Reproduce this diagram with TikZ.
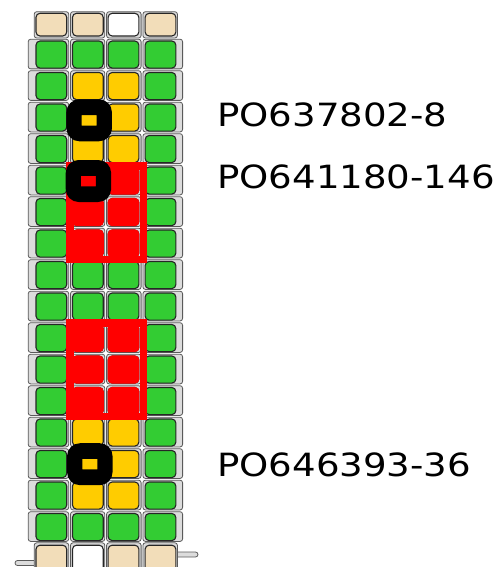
\documentclass[tikz,border=0pt]{standalone}
\usepackage{fontspec}
\newfontfamily\labelfont[FakeStretch=1.16]{DejaVu Sans}
\definecolor{framefill}{HTML}{DCDCDC}
\definecolor{frameline}{HTML}{5A5A5A}
\definecolor{cellgreen}{HTML}{33CC33}
\definecolor{cellyellow}{HTML}{FFCC00}
\definecolor{celltan}{HTML}{F2DDB9}
\definecolor{cellred}{HTML}{FF0000}
\begin{document}
\begin{tikzpicture}[x=1pt,y=-1pt,
  framebox/.style={fill=framefill, draw=frameline, line width=0.8pt, rounded corners=2.5pt},
  wellbox/.style={draw=black!85, line width=1.1pt, rounded corners=4pt},
  redwell/.style={fill=cellred, draw=cellred, line width=1.1pt, rounded corners=4pt},
  redblock/.style={draw=cellred, line width=7.5pt},
  ringmark/.style={fill=black, even odd rule},
  labeltext/.style={font=\labelfont\fontsize{32}{38}\selectfont, inner sep=0pt, anchor=base west}]
\useasboundingbox (0,0) rectangle (496,567);

% bottom tabs
\draw[framebox] (15,560.5) rectangle (38,565.5);
\draw[framebox] (174,552) rectangle (198,557);

% top and bottom row frames
\foreach \xl/\xr in {33.3/69.6, 69.6/105.7, 105.7/142, 142/178.3} {
  \draw[framebox] (\xl+0.9,11.7) rectangle (\xr-0.9,38);
  \draw[framebox] (\xl+0.9,542.8) rectangle (\xr-0.9,580);
}
% top and bottom row wells
\foreach \cx/\col in {51.35/celltan, 87.85/celltan, 123.5/white, 160.5/celltan}
  \draw[wellbox, fill=\col] (\cx-15.35,13.3) rectangle (\cx+15.35,36);
\foreach \cx/\col in {51.35/celltan, 87.85/white, 123.5/celltan, 160.5/celltan}
  \draw[wellbox, fill=\col] (\cx-15.35,545.2) rectangle (\cx+15.35,575);

% main grid frames and wells
\foreach \r/\mc in {1/cellgreen,2/cellyellow,3/cellyellow,4/cellyellow,5/cellred,6/cellred,7/cellred,8/cellgreen,9/cellgreen,10/cellred,11/cellred,12/cellred,13/cellyellow,14/cellyellow,15/cellyellow,16/cellgreen} {
  \pgfmathsetmacro{\rowtop}{38.3+(\r-1)*31.5}
  \foreach \xl/\xr in {27.3/69.6, 69.6/105.7, 105.7/142, 142/183.5}
    \draw[framebox] (\xl+0.9,\rowtop+0.9) rectangle (\xr-0.9,\rowtop+30.6);
  \draw[wellbox, fill=cellgreen] (36,\rowtop+2.7) rectangle (66.7,\rowtop+29.8);
  \draw[wellbox, fill=\mc] (72.5,\rowtop+2.7) rectangle (103.2,\rowtop+29.8);
  \draw[wellbox, fill=\mc] (108.15,\rowtop+2.7) rectangle (138.85,\rowtop+29.8);
  \draw[wellbox, fill=cellgreen] (145.15,\rowtop+2.7) rectangle (175.85,\rowtop+29.8);
}
% red wells without dark outline
\foreach \r in {5,6,7,10,11,12} {
  \pgfmathsetmacro{\rowtop}{38.3+(\r-1)*31.5}
  \draw[redwell] (72.5,\rowtop+2.7) rectangle (103.2,\rowtop+29.8);
  \draw[redwell] (108.15,\rowtop+2.7) rectangle (138.85,\rowtop+29.8);
}
% red block borders
\draw[redblock] (69.75,165.75) rectangle (143.25,259.25);
\draw[redblock] (69.75,323.05) rectangle (143.25,416.25);

% black ring marks
\foreach \cx/\cy in {89.2/120.3, 88.4/181, 89.8/464.2}
  \fill[ringmark] [rounded corners=13pt] (\cx-22.75,\cy-21) rectangle (\cx+22.75,\cy+21)
    [sharp corners] (\cx-7.5,\cy-5.25) rectangle (\cx+7.5,\cy+5.25);

% labels
\node[labeltext] (lab1) at (217,126.5) {PO637802-8};
\node[labeltext] (lab2) at (217,188.5) {PO641180-146};
\node[labeltext] (lab3) at (217,476) {PO646393-36};
\end{tikzpicture}
\end{document}
